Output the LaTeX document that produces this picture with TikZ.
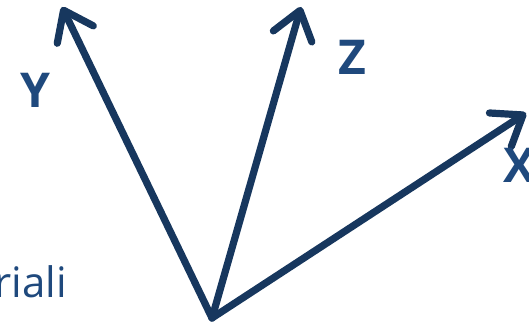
\documentclass[tikz,border=0pt]{standalone}
\usepackage{fontspec}
\setmainfont{Open Sans}
\usetikzlibrary{arrows.meta}
\definecolor{axisblue}{HTML}{17375E}
\definecolor{labelblue}{HTML}{1F497D}
\begin{document}
\begin{tikzpicture}[x=1pt,y=-1pt,
  axis/.style={draw=axisblue,line width=7.2pt,line cap=round,line join=round,
    -{Straight Barb[length=27pt,width=40pt,line cap=round,line join=round]}},
  axlabel/.style={text=labelblue,font=\fontsize{48}{48}\selectfont\bfseries,inner sep=0pt}]
\useasboundingbox (0,0) rectangle (529,326);
\clip (0,0) rectangle (529,326);
\coordinate (O) at (212,318);
\coordinate (X) at (526,113);
\coordinate (Y) at (62,7);
\coordinate (Z) at (301,7);
\draw[axis] (O) -- (Y);
\draw[axis] (O) -- (Z);
\draw[axis] (O) -- (X);
\node[axlabel,anchor=base] (ly) at (35,107) {Y};
\node[axlabel,anchor=base] (lz) at (352,75) {Z};
\node[axlabel,anchor=base west] (lx) at (503,182) {X};
\node[text=labelblue,font=\fontsize{42}{42}\selectfont,anchor=base east,inner sep=0pt] (lm) at (67,297) {riali};
\end{tikzpicture}
\end{document}
